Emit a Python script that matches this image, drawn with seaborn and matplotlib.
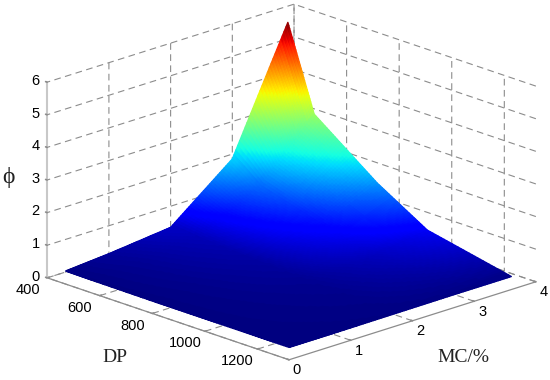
import numpy as np
import matplotlib
matplotlib.use('Agg')
import matplotlib.pyplot as plt
from mpl_toolkits.mplot3d import proj3d
import seaborn as sns

# values: phi at each DP / MC grid point
dp_values = [400, 500, 740, 930, 1250]
mc_values = [0.3, 1, 2, 3, 3.9]
phi_mc03 = [0.03, 0.02, 0.01, 0.01, 0.01]
phi_mc1 = [0.14, 0.10, 0.06, 0.04, 0.01]
phi_mc2 = [0.35, 0.27, 0.16, 0.09, 0.02]
phi_mc3 = [1.85, 1.25, 0.70, 0.30, 0.03]
phi_mc39 = [5.5, 2.96, 1.50, 0.58, 0.03]

dp_ticks = [400, 600, 800, 1000, 1200]
mc_ticks = [0, 1, 2, 3, 4]
phi_ticks = [0, 1, 2, 3, 4, 5, 6]

sns.set_theme(style='white')
plt.rcParams['font.family'] = ['Liberation Sans', 'DejaVu Sans']

phi = np.array([phi_mc03, phi_mc1, phi_mc2, phi_mc3, phi_mc39])

# finer mesh only so the facets can carry a smooth colour, like MATLAB's shading interp
n_sub = 30
dp_idx = np.linspace(0, len(dp_values) - 1, (len(dp_values) - 1) * n_sub + 1)
mc_idx = np.linspace(0, len(mc_values) - 1, (len(mc_values) - 1) * n_sub + 1)
rows = np.array([np.interp(dp_idx, range(len(dp_values)), r) for r in phi])
Z = np.array([np.interp(mc_idx, range(len(mc_values)), c) for c in rows.T]).T
X, Y = np.meshgrid(np.interp(dp_idx, range(len(dp_values)), dp_values),
                   np.interp(mc_idx, range(len(mc_values)), mc_values))

fig = plt.figure(figsize=(5.5, 3.8), dpi=100)
ax = fig.add_axes([9.1 / 550, -84.4 / 380, 1.0, 550 / 380], projection='3d', proj_type='ortho')
ax.view_init(elev=19.1, azim=-44)
ax.set_box_aspect((348, 343, 207), zoom=0.937)

face = plt.get_cmap('jet')(Z / 5.5)
ax.plot_surface(X, Y, Z, facecolors=face, rstride=1, cstride=1,
                linewidth=1.0, antialiased=True, shade=False)

ax.set_xlim(400, 1320, view_margin=0)
ax.set_ylim(0, 4, view_margin=0)
ax.set_zlim(0, 6, view_margin=0)
ax.set_xticks(dp_ticks)
ax.set_yticks(mc_ticks)
ax.set_zticks(phi_ticks)
ax.set_xticklabels([])
ax.set_yticklabels([])
ax.set_zticklabels([])
ax.tick_params(color='#8c8c8c')

for axis in [ax.xaxis, ax.yaxis, ax.zaxis]:
    axis.set_pane_color((1, 1, 1, 0))
    axis.pane.set_edgecolor('none')
    axis._axinfo['grid'].update(color='#8c8c8c', linestyle=(0, (6, 4)), linewidth=0.8)
    axis._axinfo['tick'].update(inward_factor=0.0, outward_factor=0.08)
    axis.line.set_color('#8c8c8c')
    axis.line.set_linewidth(0.9)
ax.zaxis.line.set_color('#c8c8c8')
ax.zaxis.line.set_linewidth(1.5)
ax.zaxis._axinfo['juggled'] = (1, 2, 0)

# tick labels sit just off the axes, where the reference has them
def tick_label(x, y, z, s):
    px, py, _ = proj3d.proj_transform(x, y, z, ax.get_proj())
    ax.text2D(px, py, s, transform=ax.transData, fontsize=10.5, color='black', ha='center', va='center')

for t in dp_ticks:
    tick_label(t, -0.32, -0.18, str(t))
for t in mc_ticks:
    tick_label(1350, t, -0.24, str(t))
for t in phi_ticks:
    tick_label(400, -0.19, t + 0.15, str(t))

serif = ['Liberation Serif', 'DejaVu Serif']
fig.text(115 / 550, 1 - 358 / 380, 'DP', family=serif, fontsize=14, ha='center', va='center', color='#222222')
fig.text(463 / 550, 1 - 357 / 380, 'MC/%', family=serif, fontsize=14, ha='center', va='center', color='#222222')
fig.text(8 / 550, 1 - 178 / 380, '\u03d5', family=serif, fontsize=17, ha='center', va='center', color='#222222')

fig.savefig('out.png', dpi=100)
